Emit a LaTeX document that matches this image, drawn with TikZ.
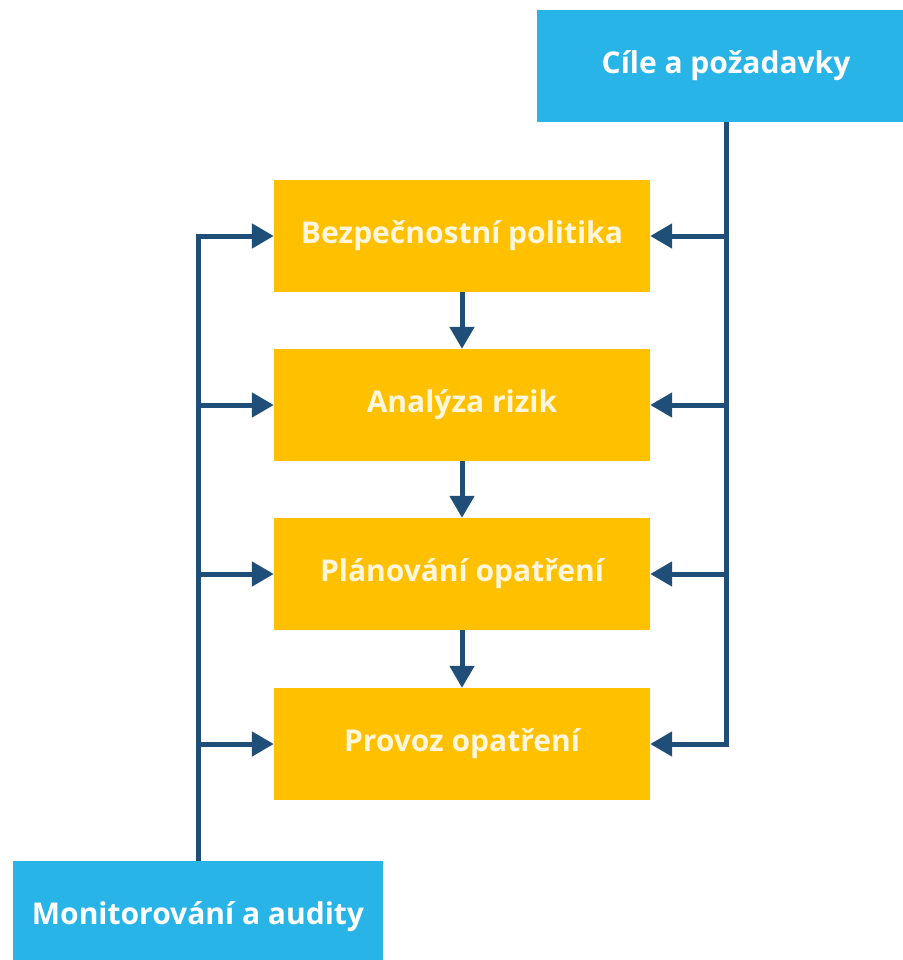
\documentclass[tikz,border=0pt]{standalone}
\usepackage{fontspec}
\setmainfont{Open Sans}
\usetikzlibrary{arrows.meta}
\definecolor{skyblue}{HTML}{29B4E8}
\definecolor{amber}{HTML}{FFC000}
\definecolor{navy}{HTML}{1F4E79}
\definecolor{cream}{HTML}{FFF6DC}
\tikzset{
  stage/.style={fill=amber, minimum width=376pt, minimum height=112pt,
    inner sep=0pt, font=\fontsize{30pt}{34pt}\selectfont\bfseries, text=cream},
  endbox/.style={fill=skyblue, inner sep=0pt,
    font=\fontsize{30pt}{34pt}\selectfont\bfseries, text=white},
  link/.style={draw=navy, line width=5pt, line join=miter,
    -{Triangle[length=22pt,width=24pt]}},
}
\begin{document}
\begin{tikzpicture}[x=1pt,y=-1pt]
  \useasboundingbox (0,0) rectangle (902,960);
  % process stages
  \node[stage] (s1) at (462,236) {Bezpečnostní politika};
  \node[stage] (s2) at (462,405) {Analýza rizik};
  \node[stage] (s3) at (462,574) {Plánování opatření};
  \node[stage] (s4) at (462,744) {Provoz opatření};
  % inputs
  \node[endbox, minimum width=378pt, minimum height=112pt] (goal) at (726,66) {Cíle a požadavky};
  \node[endbox, minimum width=370pt, minimum height=112pt] (mon) at (198,917) {Monitorování a audity};
  % main flow
  \draw[link] (s1) -- (s2);
  \draw[link] (s2) -- (s3);
  \draw[link] (s3) -- (s4);
  % feed from goals on the right
  \draw[link] (goal.south) |- (s1.east);
  \draw[link] (goal.south |- s2.east) -- (s2.east);
  \draw[link] (goal.south |- s3.east) -- (s3.east);
  \draw[link] (goal.south) |- (s4.east);
  % feedback from monitoring on the left
  \draw[link] (mon.north) |- (s1.west);
  \draw[link] (mon.north |- s2.west) -- (s2.west);
  \draw[link] (mon.north |- s3.west) -- (s3.west);
  \draw[link] (mon.north |- s4.west) -- (s4.west);
\end{tikzpicture}
\end{document}
